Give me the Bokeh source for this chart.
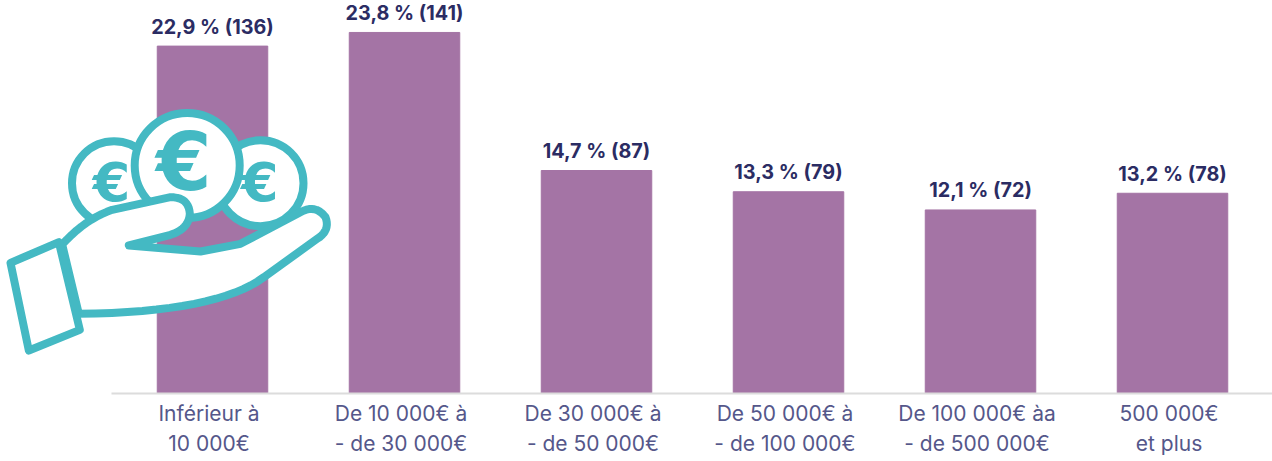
from bokeh.plotting import figure
from bokeh.models import Range1d, FixedTicker, ColumnDataSource
from bokeh.core.properties import value
from bokeh.embed import file_html
from bokeh.resources import INLINE

categories = ["Inférieur à\n10 000€", "De 10 000€ à\n- de 30 000€", "De 30 000€ à\n- de 50 000€",
              "De 50 000€ à\n- de 100 000€", "De 100 000€ àa\n- de 500 000€", "500 000€\net plus"]
percent = [22.9, 23.8, 14.7, 13.3, 12.1, 13.2]
counts = [136, 141, 87, 79, 72, 78]
labels = ["22,9 % (136)", "23,8 % (141)", "14,7 % (87)", "13,3 % (79)", "12,1 % (72)", "13,2 % (78)"]

BAR = "#a474a5"
TEAL = "#44b9c3"
DARK = "#2b2c63"
TICK = "#55578a"
FONT = "Inter"

# frame geometry in page pixels
PX_L, PX_R, PX_T, PX_B = 0, 1272, 0, 393
STEP = 192.0
X0 = 212.0
PER = 15.17
LABEL_SHIFT = -3.5 / STEP

xs = list(range(len(categories)))
p = figure(width=1272, height=461, output_backend="svg", toolbar_location=None,
           x_range=Range1d((PX_L - X0) / STEP, (PX_R - X0) / STEP),
           y_range=Range1d(0, (PX_B - PX_T) / PER),
           min_border_left=0, min_border_right=0, min_border_top=0, min_border_bottom=68,
           outline_line_color=None, background_fill_color="white", border_fill_color="white")
p.grid.visible = False
p.yaxis.visible = False
ax = p.xaxis[0]
tick_xs = [i + LABEL_SHIFT for i in xs]
ax.ticker = FixedTicker(ticks=tick_xs)
ax.major_label_overrides = {t: c for t, c in zip(tick_xs, categories)}
ax.major_tick_line_color = None
ax.minor_tick_line_color = None
ax.major_tick_out = 0
ax.major_tick_in = 0
ax.minor_tick_out = 0
ax.minor_tick_in = 0
ax.axis_line_color = "#dcdcdc"
ax.axis_line_width = 2
ax.bounds = ((111 - X0) / STEP, (PX_R - X0) / STEP)
ax.major_label_text_font = FONT
ax.major_label_text_font_size = "21px"
ax.major_label_text_color = TICK
ax.major_label_standoff = 7

src = ColumnDataSource(dict(x=xs, top=percent, label=labels))
p.vbar(x="x", top="top", bottom=0, width=110.5 / STEP, color=BAR, source=src)
p.text(x="x", y="top", text="label", source=src, text_align="center", text_baseline="bottom",
       y_offset=-7.5, text_font=value(FONT), text_font_size="19.8px", text_font_style="bold", text_color=DARK)

# icon: decorative, drawn in page-pixel coordinates
p.extra_x_ranges["px"] = Range1d(PX_L, PX_R)
p.extra_y_ranges["px"] = Range1d(PX_B, PX_T)
kw = dict(x_range_name="px", y_range_name="px")


def Z(pt):
    return (pt[0] / 3, pt[1] / 3 + 100)


def q(a, c, b, n=10):
    return [((1 - t) ** 2 * a[0] + 2 * t * (1 - t) * c[0] + t * t * b[0],
             (1 - t) ** 2 * a[1] + 2 * t * (1 - t) * c[1] + t * t * b[1]) for t in [i / n for i in range(n + 1)]]


for cx, cy, r in [(113.5, 182.7, 42), (260, 182.7, 43)]:
    p.circle(x=[cx], y=[cy], radius=r, fill_color="white", line_color=TEAL, line_width=8, **kw)
p.circle(x=[186.7], y=[165], radius=52.5, fill_color="white", line_color=TEAL, line_width=8, **kw)

for cx, cy, size in [(111, 181.7, "54px"), (259.3, 181.7, "54px"), (183.3, 162.3, "80px")]:
    p.text(x=[cx], y=[cy], text=["€"], text_align="center", text_baseline="middle",
           text_font=value("DejaVu Sans"), text_font_style="bold", text_font_size=size, text_color=TEAL, **kw)

path = []
path += [(185, 432)]
path += q((185, 432), (255, 355), (335, 328))
path += [(510, 290)]
path += q((510, 290), (565, 290), (568, 340))
path += q((568, 340), (565, 385), (510, 403))
path += [(385, 435), (600, 453), (720, 430), (900, 335)]
path += q((900, 335), (945, 310), (975, 350))
path += q((975, 350), (990, 390), (950, 415))
path += [(790, 530)]
path += q((790, 530), (650, 635), (235, 640), 16)
hand = [Z(t) for t in path]
p.patch(x=[a for a, b in hand], y=[b for a, b in hand], fill_color="white", line_color=TEAL,
        line_width=8, line_join="round", **kw)

sleeve = [Z(t) for t in [(30, 487), (175, 425), (238, 688), (85, 750)]]
p.patch(x=[a for a, b in sleeve], y=[b for a, b in sleeve], fill_color="white", line_color=TEAL,
        line_width=8, line_join="round", **kw)

open("out.html", "w").write(file_html(p, INLINE))
